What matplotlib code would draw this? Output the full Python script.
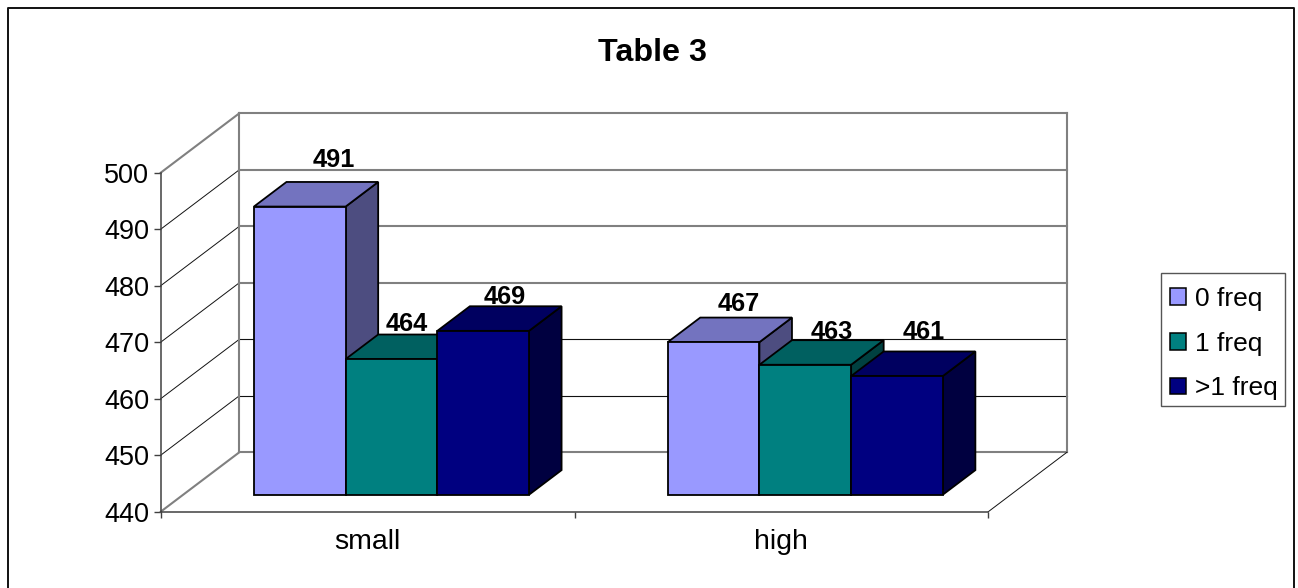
import matplotlib
matplotlib.use('Agg')
import matplotlib.pyplot as plt
from matplotlib.lines import Line2D
from matplotlib.patches import Patch, Rectangle

plt.rcParams['font.family'] = ['Liberation Sans', 'DejaVu Sans']

###  DATA  ###

categories = ['small', 'high']
series_names = ['0 freq', '1 freq', '>1 freq']
freq0 = [491, 467]
freq1 = [464, 463]
freq2 = [469, 461]
y_ticks = [440, 450, 460, 470, 480, 490, 500]

series_values = [freq0, freq1, freq2]

# label nudges in pixels from the front top corner centre of each bar
label_nudge = [[(34.5, 40), (25, 31.5)],
               [(15, 27.7), (26, 26)],
               [(21.5, 27), (26.5, 37)]]

front_col = ['#9999ff', '#008080', '#000080']
top_col = ['#7373bf', '#006060', '#000060']
side_col = ['#4d4d80', '#004040', '#000040']

###  SCALES  ###

W, H = 1298, 588
px_x = 413.8       # pixels per category
px_y = 5.65        # pixels per value unit
x0_px = 160.7      # pixel of the front left corner
y0_px = 511.7

# oblique projection: one unit of depth moves right and up
depth_x = 78.6 / px_x
depth_y = 59.4 / px_y
bar_w = 91.7 / px_x
bar_d0, bar_d1 = 0.286, 0.70
group_shift = 1.4 / px_x


def proj(x, v, d):
    return x + depth_x * d, v + depth_y * d


def bar_left(c, s):
    return c + 0.5 + group_shift - 1.5 * bar_w + s * bar_w


def face(ax, corners, col, z):
    xs = [proj(*c)[0] for c in corners]
    ys = [proj(*c)[1] for c in corners]
    ax.fill(xs, ys, facecolor=col, edgecolor='black', lw=1.3,
            joinstyle='miter', zorder=z, clip_on=False)


def seg(ax, a, b, col, lw):
    pa, pb = proj(*a), proj(*b)
    ax.plot([pa[0], pb[0]], [pa[1], pb[1]], color=col, lw=lw, zorder=2,
            solid_capstyle='projecting', clip_on=False)


###  PLOT  ###

fig = plt.figure(figsize=(W / 100, H / 100), dpi=100)
ax = fig.add_axes([0, 0, 1, 1])
ax.set_xlim(-x0_px / px_x, (W - x0_px) / px_x)
ax.set_ylim(440 - (H - y0_px) / px_y, 440 + y0_px / px_y)

# walls and floor
for v in y_ticks:
    heavy = v in (440, 470, 480, 490, 500)
    seg(ax, (0, v, 1), (2, v, 1), '#808080' if heavy else '#111111', 1.5 if heavy else 0.8)
    edge = v in (440, 500)
    seg(ax, (0, v, 0), (0, v, 1), '#808080' if edge else '#111111', 1.5 if edge else 0.7)
seg(ax, (0, 440, 1), (0, 500, 1), '#808080', 1.5)
seg(ax, (2, 440, 1), (2, 500, 1), '#808080', 1.5)
seg(ax, (2, 440, 0), (2, 440, 1), '#111111', 0.7)

# bars, left to right so later ones cover the sides of earlier ones
z = 3
for c in range(len(categories)):
    for s in range(len(series_values)):
        val = series_values[s][c]
        xl = bar_left(c, s)
        xr = xl + bar_w
        face(ax, [(xr, 440, bar_d0), (xr, 440, bar_d1), (xr, val, bar_d1), (xr, val, bar_d0)], side_col[s], z)
        face(ax, [(xl, val, bar_d0), (xr, val, bar_d0), (xr, val, bar_d1), (xl, val, bar_d1)], top_col[s], z + 0.1)
        face(ax, [(xl, 440, bar_d0), (xr, 440, bar_d0), (xr, val, bar_d0), (xl, val, bar_d0)], front_col[s], z + 0.2)
        z += 1

# value labels sit on top of everything
for s in range(len(series_values)):
    for c in range(len(categories)):
        val = series_values[s][c]
        pos = proj(bar_left(c, s) + bar_w / 2, val, bar_d0)
        nx, ny = label_nudge[s][c]
        ax.annotate(str(val), xy=pos, xytext=(nx * 0.72, ny * 0.72), textcoords='offset points',
                    ha='center', va='baseline', fontsize=18.3, fontweight='bold',
                    color='black', zorder=50)

# axes lines
for side in ('top', 'right'):
    ax.spines[side].set_visible(False)
ax.spines['left'].set_position(('data', 0))
ax.spines['left'].set_bounds(440, 500)
ax.spines['bottom'].set_position(('data', 440))
ax.spines['bottom'].set_bounds(0, 2)
for side in ('left', 'bottom'):
    ax.spines[side].set_color('#404040')
    ax.spines[side].set_linewidth(1.1)

ax.set_yticks(y_ticks)
ax.set_xticks([0, 1, 2])
ax.set_xticklabels([])
ax.set_xticks([0.5, 1.5], minor=True)
ax.set_xticklabels(categories, minor=True)
ax.tick_params(axis='y', length=5.3, width=1.0, color='#404040', pad=2.9, labelsize=19.5)
ax.tick_params(axis='x', which='major', length=4.6, width=1.0, color='#404040')
ax.tick_params(axis='x', which='minor', length=0, pad=12.5, labelsize=20.5)

# legend, boxed separately so the box can hug the text
fig.add_artist(Rectangle((1160.5 / W, 1 - 405.5 / H), 124.5 / W, 132.5 / H, facecolor='white',
                         edgecolor='#555555', lw=1.0, transform=fig.transFigure, zorder=5))
handles = [Patch(facecolor=front_col[i], edgecolor='black', lw=1.1) for i in range(3)]
leg = fig.legend(handles, series_names, loc='upper left', bbox_to_anchor=(1160 / W, 1 - 277 / H),
                 borderaxespad=0, frameon=False, fontsize=19, handlelength=0.6, handleheight=0.6,
                 handletextpad=0.35, labelspacing=0.78, borderpad=0.38)
leg.set_zorder(6)

# chart frame, open at the bottom edge of the figure
fx = [8.3 / W, 8.3 / W, 1293.7 / W, 1293.7 / W]
fy = [0, 1 - 7.5 / H, 1 - 7.5 / H, 0]
fig.add_artist(Line2D(fx, fy, color='#111111', lw=1.4, transform=fig.transFigure))

fig.text(652 / W, 1 - 60.7 / H, 'Table 3', ha='center', va='baseline',
         fontsize=23.2, fontweight='bold', color='black')

plt.savefig('out.png', dpi=100)
